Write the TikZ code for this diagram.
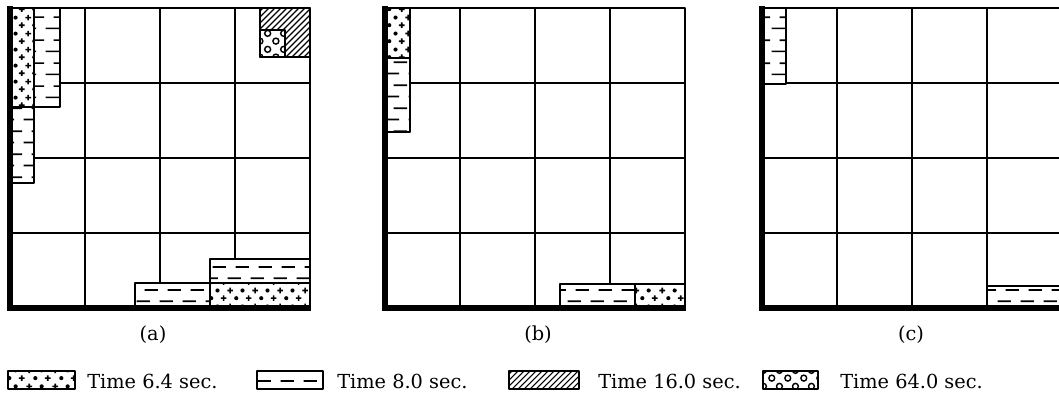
\documentclass[tikz,border=0pt]{standalone}
\usepackage{fontspec}
\setmainfont{DejaVu Serif}
\usetikzlibrary{patterns}

% 填充图案
\pgfdeclarepatternformonly{plusdots}{\pgfpointorigin}{\pgfpoint{19pt}{12pt}}{\pgfpoint{19pt}{12pt}}{%
  \pgfsetlinewidth{1.3pt}%
  \pgfpathmoveto{\pgfpoint{0.2pt}{9pt}}\pgfpathlineto{\pgfpoint{4.6pt}{9pt}}%
  \pgfpathmoveto{\pgfpoint{2.4pt}{6.8pt}}\pgfpathlineto{\pgfpoint{2.4pt}{11.2pt}}%
  \pgfpathmoveto{\pgfpoint{14.4pt}{3pt}}\pgfpathlineto{\pgfpoint{18.8pt}{3pt}}%
  \pgfpathmoveto{\pgfpoint{16.6pt}{0.8pt}}\pgfpathlineto{\pgfpoint{16.6pt}{5.2pt}}%
  \pgfusepath{stroke}%
  \pgfpathcircle{\pgfpoint{11.9pt}{9pt}}{1.6pt}%
  \pgfpathcircle{\pgfpoint{7.1pt}{3pt}}{1.6pt}%
  \pgfusepath{fill}%
}
\pgfdeclarepatternformonly{dashrows}{\pgfpointorigin}{\pgfpoint{17pt}{17pt}}{\pgfpoint{17pt}{17pt}}{%
  \pgfsetlinewidth{1.3pt}%
  \pgfpathmoveto{\pgfpoint{0.5pt}{4.25pt}}\pgfpathlineto{\pgfpoint{10.5pt}{4.25pt}}%
  \pgfpathmoveto{\pgfpoint{6.5pt}{12.75pt}}\pgfpathlineto{\pgfpoint{16.5pt}{12.75pt}}%
  \pgfusepath{stroke}%
}
\pgfdeclarepatternformonly{wavyhatch}{\pgfpoint{-0.5pt}{-0.5pt}}{\pgfpoint{5pt}{5pt}}{\pgfpoint{4.5pt}{4.5pt}}{%
  \pgfsetlinewidth{0.8pt}%
  \pgfpathmoveto{\pgfpointorigin}%
  \pgfpathcurveto{\pgfpoint{2.2pt}{0.9pt}}{\pgfpoint{2.3pt}{3.6pt}}{\pgfpoint{4.5pt}{4.5pt}}%
  \pgfusepath{stroke}%
}
\pgfdeclarepatternformonly{rings}{\pgfpointorigin}{\pgfpoint{12pt}{12pt}}{\pgfpoint{12pt}{12pt}}{%
  \pgfsetlinewidth{1.1pt}%
  \pgfpathcircle{\pgfpoint{3pt}{3pt}}{2.3pt}%
  \pgfpathcircle{\pgfpoint{9pt}{9pt}}{2.3pt}%
  \pgfusepath{stroke}%
}

\begin{document}
\begin{tikzpicture}[x=0.75pt, y=-0.75pt, line join=round,
    grid/.style={line width=1pt},
    frame/.style={line width=4pt, line join=miter},
    blk/.style={draw, line width=1.2pt, preaction={fill=white}},
    sec6/.style={blk, pattern=plusdots},
    sec8/.style={blk, pattern=dashrows},
    sec16/.style={blk, pattern=wavyhatch},
    sec64/.style={blk, pattern=rings},
    lab/.style={inner sep=0pt, font=\fontsize{14.5}{16}\selectfont}]
    \useasboundingbox (0,0) rectangle (1059,397);
    \clip (0,0) rectangle (1059,397);

    % 网格
    \foreach \x in {10,385,762} {
        \draw[grid] (\x,8) rectangle ++(300,300);
        \foreach \i in {1,2,3} {
            \draw[grid] (\x+75*\i,8) -- ++(0,300);
            \draw[grid] (\x,8+75*\i) -- ++(300,0);
        }
    }
    \draw[line width=1.8pt] (837,8) -- (837,308);

    % (a)
    \draw[sec6] (10,8) rectangle (34,107);
    \draw[sec8] (34,8) rectangle (60,107);
    \draw[sec8] (10,107) rectangle (34,183);
    \draw[sec16] (260,8) rectangle (310,57);
    \draw[sec64] (260,30) rectangle (285,57);
    \draw[sec8] (135,283) rectangle (210,308);
    \draw[sec8] (210,259) rectangle (310,283);
    \draw[sec6] (210,283) rectangle (310,308);

    % (b)
    \draw[sec6] (385,8) rectangle (410,58);
    \draw[sec8] (385,58) rectangle (410,132);
    \draw[sec8] (560,284) rectangle (635,308);
    \draw[sec6] (635,284) rectangle (685,308);

    % (c)
    \draw[sec8] (762,8) rectangle (786,84);
    \draw[sec8] (987,286) rectangle (1062,308);

    % 粗边
    \foreach \x in {10,385,762}
        \draw[frame] (\x,6) -- (\x,308) -- ++(301,0);

    \node[lab] (la) at (153,335) {(a)};
    \node[lab] (lb) at (538,335) {(b)};
    \node[lab] (lc) at (911,335) {(c)};

    % 图例
    \draw[sec6] (8,371) rectangle (75,389);
    \node[lab, anchor=base west] (t6) at (87,388) {Time 6.4 sec.};
    \draw[sec8] (257,371) rectangle (323,389);
    \node[lab, anchor=base west] (t8) at (337,388) {Time 8.0 sec.};
    \draw[sec16] (509,371) rectangle (579,389);
    \node[lab, anchor=base west] (t16) at (598,388) {Time 16.0 sec.};
    \draw[sec64] (763,371) rectangle (818,389);
    \node[lab, anchor=base west] (t64) at (840,388) {Time 64.0 sec.};
\end{tikzpicture}
\end{document}
